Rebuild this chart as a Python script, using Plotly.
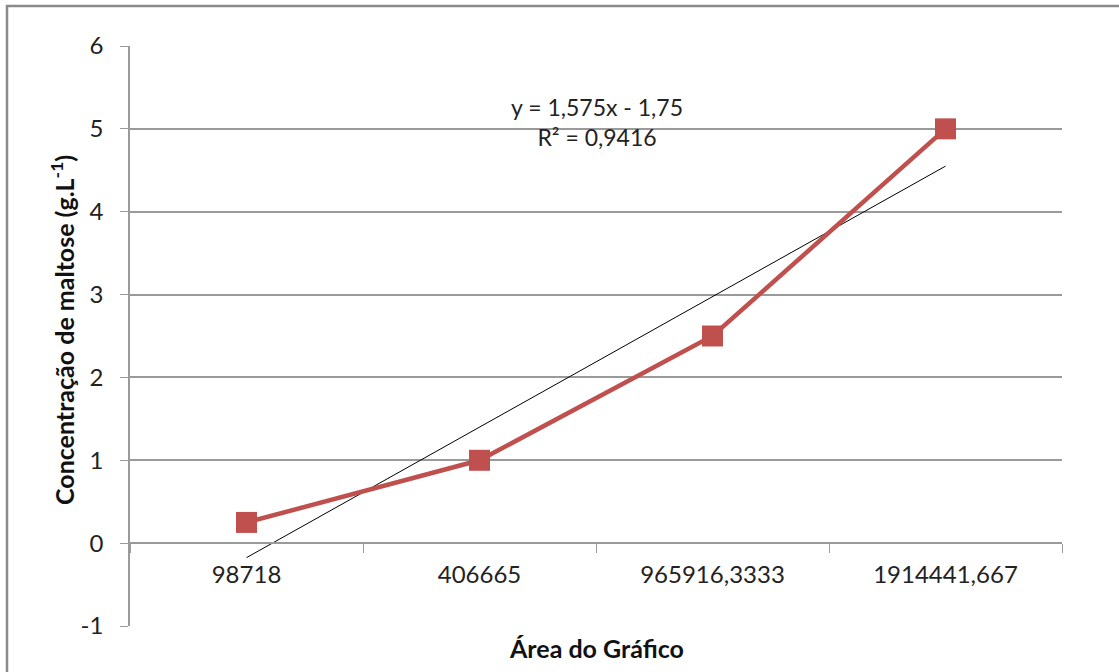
import plotly.graph_objects as go

categories = ["98718", "406665", "965916,3333", "1914441,667"]
concentracao = [0.25, 1.0, 2.5, 5.0]
slope = 1.575
intercept = -1.75
trend_y = [slope * (i + 1) + intercept for i in range(len(categories))]
y_ticks = [-1, 0, 1, 2, 3, 4, 5, 6]
y_ticktext = ["-1", "0", "1", "2", "3", "4", "5", "6"]

W, H = 1119, 672
L, T = 130, 46
pw, ph = 932, 580
R = W - L - pw
B = H - T - ph

FONT = "Lato, 'Open Sans', sans-serif"
RED = "#C0504D"
GRID = "#9a9a9a"

fig = go.Figure()
fig.add_trace(go.Scatter(
    x=categories, y=trend_y, mode="lines",
    line=dict(color="black", width=1), hoverinfo="skip", showlegend=False,
))
fig.add_trace(go.Scatter(
    x=categories, y=concentracao, mode="lines+markers",
    line=dict(color=RED, width=4.5),
    marker=dict(symbol="square", size=21, color=RED),
    showlegend=False,
))

fig.update_layout(
    width=W, height=H,
    margin=dict(l=L, r=R, t=T, b=B),
    paper_bgcolor="white", plot_bgcolor="white",
    font=dict(family=FONT, size=24, color="#222"),
    xaxis=dict(
        type="category", range=[-0.5, 3.5],
        anchor="free", position=1/7,
        showline=True, linecolor=GRID, linewidth=1.5,
        ticks="outside", tickson="boundaries", ticklen=9, tickcolor=GRID,
        showgrid=False, tickfont=dict(size=24, color="#222"),
        ticklabelstandoff=10,
    ),
    yaxis=dict(
        range=[-1, 6], tickvals=y_ticks, ticktext=y_ticktext,
        showline=True, linecolor=GRID, linewidth=1.5,
        ticks="outside", ticklen=8, tickcolor=GRID,
        showgrid=True, gridcolor=GRID, gridwidth=1.5,
        zeroline=False, tickfont=dict(size=24, color="#222"),
        ticklabelstandoff=12,
    ),
)

# x-axis title
fig.add_annotation(
    text="<b>Área do Gráfico</b>", xref="paper", yref="paper",
    x=(596 - L) / pw, y=(626 - 648) / ph, showarrow=False, yanchor="middle",
    font=dict(size=25, family=FONT, color="#111"),
)
# y-axis title
fig.add_annotation(
    text="<b>Concentração de maltose (g.L<sup>-1</sup>)</b>", xref="paper", yref="paper",
    x=(62 - L) / pw, y=(626 - 330) / ph, showarrow=False, textangle=-90,
    xanchor="center", yanchor="middle",
    font=dict(size=25, family=FONT, color="#111"),
)
# equation
fig.add_annotation(
    text="y = 1,575x - 1,75<br>R² = 0,9416", xref="paper", yref="paper",
    x=(597 - L) / pw, y=(626 - 122) / ph, showarrow=False,
    xanchor="center", yanchor="middle", align="center",
    font=dict(size=23, family=FONT, color="#222"),
)
# outer chart frame
fig.add_shape(
    type="rect", xref="paper", yref="paper",
    x0=(7 - L) / pw, x1=(W + 20 - L) / pw,
    y0=-(B + 20) / ph, y1=(626 - 6) / ph,
    line=dict(color="#8a8a8a", width=2.5), layer="below",
)

fig.write_html(
    "out.html",
    config={"displayModeBar": False},
    post_script="document.body.style.margin='0';document.body.style.overflow='hidden';",
)
